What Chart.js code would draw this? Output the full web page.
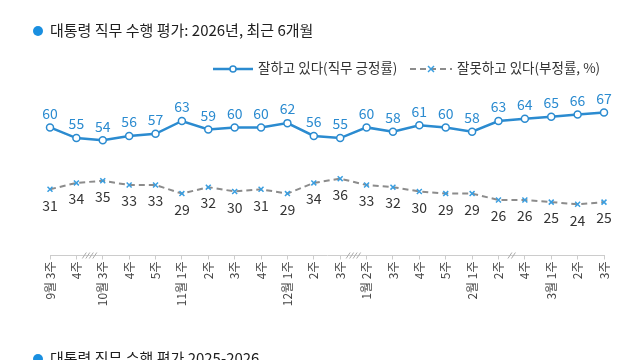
<!DOCTYPE html>
<html>
<head>
<meta charset="utf-8">
<script src="https://cdn.jsdelivr.net/npm/chart.js@4/dist/chart.umd.min.js"></script>
<style>
  html, body { margin:0; padding:0; width:640px; height:360px; overflow:hidden; background:#fff; }
  body { position:relative; font-family:"Noto Sans CJK KR","Noto Sans",sans-serif; }
  #c { position:absolute; left:0; top:0; }
  .title { position:absolute; left:33px; font-size:15px; line-height:20px; color:#1e1e1e; white-space:nowrap; }
  .title .dot { display:inline-block; width:10px; height:10px; border-radius:50%; background:#1a8fe0; margin-right:7px; vertical-align:0px; }
  .leg { position:absolute; top:57px; font-size:13.5px; line-height:20px; color:#333; white-space:nowrap; }
  .leg svg { vertical-align:-3px; margin-right:5px; }
</style>
</head>
<body>
<canvas id="c" width="640" height="360"></canvas>
<div class="title" style="top:20px;"><span class="dot"></span>대통령 직무 수행 평가: 2026년, 최근 6개월</div>
<div class="leg" style="left:213px;"><svg width="40" height="14"><line x1="0" y1="7" x2="40" y2="7" stroke="#2b8bd0" stroke-width="2.5"/><circle cx="20" cy="7" r="3" fill="#fff" stroke="#2b8bd0" stroke-width="1.5"/></svg>잘하고 있다(직무 긍정률)</div>
<div class="leg" style="left:410px;"><svg width="42" height="14"><line x1="0" y1="7" x2="42" y2="7" stroke="#8c8c8c" stroke-width="2" stroke-dasharray="6,4"/><g stroke="#3a9ee0" stroke-width="1.5"><line x1="18" y1="4" x2="24" y2="10"/><line x1="24" y1="4" x2="18" y2="10"/></g></svg>잘못하고 있다(부정률, %)</div>
<div class="title" style="top:348px;"><span class="dot"></span>대통령 직무 수행 평가 2025-2026</div>
<script>
const labels = ["9월 3주","4주","10월 3주","4주","5주","11월 1주","2주","3주","4주","12월 1주","2주","3주","1월 2주","3주","4주","5주","2월 1주","2주","4주","3월 1주","2주","3주"];
const positive = [60,55,54,56,57,63,59,60,60,62,56,55,60,58,61,60,58,63,64,65,66,67];
const negative = [31,34,35,33,33,29,32,30,31,29,34,36,33,32,30,29,29,26,26,25,24,25];
const breaks = [[1,4],[11,4],[17,2]];

const BLUE = '#2b8bd0';
const FONT = '"Noto Sans CJK KR","Noto Sans",sans-serif';

const labelPlugin = {
  id:'vals',
  afterDatasetsDraw(chart){
    const ctx = chart.ctx;
    ctx.save();
    ctx.font = '14px ' + FONT;
    ctx.textAlign = 'center';
    ctx.textBaseline = 'middle';
    const m0 = chart.getDatasetMeta(0), m1 = chart.getDatasetMeta(1);
    ctx.fillStyle = BLUE;
    m0.data.forEach((p,i)=>ctx.fillText(String(positive[i]), p.x, p.y-14));
    ctx.fillStyle = '#333';
    m1.data.forEach((p,i)=>ctx.fillText(String(negative[i]), p.x, p.y+16));
    ctx.restore();
  }
};
const breakPlugin = {
  id:'brk',
  afterDraw(chart){
    const xs = chart.scales.x, ctx = chart.ctx;
    const y = xs.top;
    ctx.save();
    ctx.strokeStyle = '#aaa';
    ctx.lineWidth = 1;
    breaks.forEach(([i,n])=>{
      const cx = (xs.getPixelForTick(i)+xs.getPixelForTick(i+1))/2;
      const sp = 3.5;
      const start = cx - (n-1)*sp/2;
      for(let k=0;k<n;k++){
        const x = start + k*sp;
        ctx.beginPath();
        ctx.moveTo(x-2, y+3);
        ctx.lineTo(x+2, y-3);
        ctx.stroke();
      }
    });
    ctx.restore();
  }
};

new Chart(document.getElementById('c'), {
  type:'line',
  data:{
    labels: labels,
    datasets:[
      { data: positive, borderColor: BLUE, borderWidth:2.5, tension:0,
        pointStyle:'circle', pointRadius:3.5, pointBackgroundColor:'#fff', pointBorderColor: BLUE, pointBorderWidth:1.5 },
      { data: negative, borderColor:'#8c8c8c', borderWidth:2, borderDash:[6,4], tension:0,
        pointStyle:'crossRot', pointRadius:3.5, pointBorderColor:'#3a9ee0', pointBackgroundColor:'#3a9ee0', pointBorderWidth:1.5 }
    ]
  },
  options:{
    responsive:false,
    animation:false,
    layout:{ padding:{ left:50, right:36, top:42, bottom:0 } },
    plugins:{ legend:{display:false}, tooltip:{enabled:false}, title:{display:false} },
    scales:{
      x:{
        offset:false,
        grid:{ display:true, drawOnChartArea:false, drawTicks:true, tickLength:4, color:'#ccc' },
        border:{ display:true, color:'#ccc' },
        ticks:{ autoSkip:false, maxRotation:90, minRotation:90, padding:2, color:'#444', font:{ size:12, family:FONT } },
        afterFit(s){ s.height = 104.5; }
      },
      y:{ display:false, min:0, max:100 }
    }
  },
  plugins:[labelPlugin, breakPlugin]
});
</script>
</body>
</html>
